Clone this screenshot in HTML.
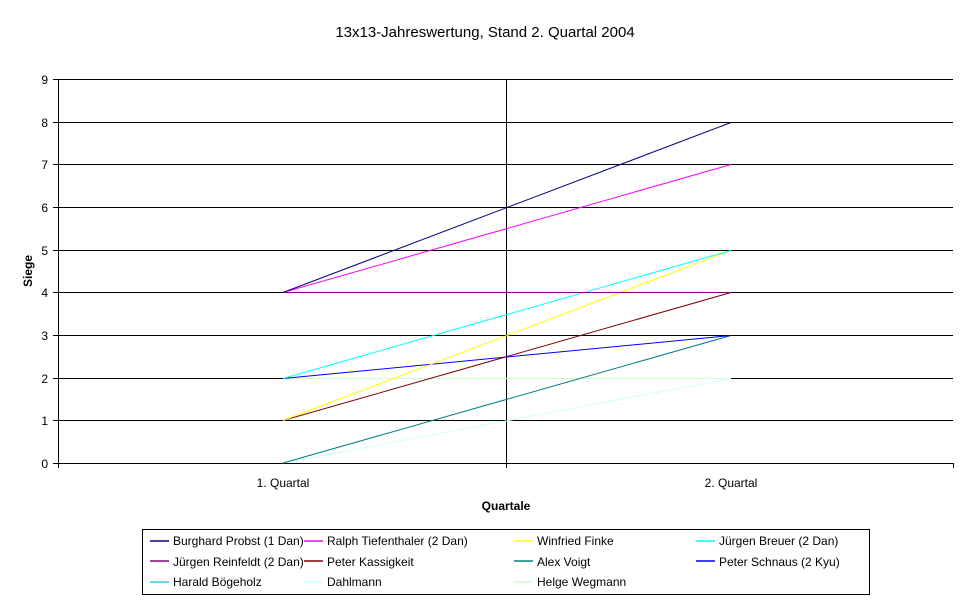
<!DOCTYPE html>
<html><head><meta charset="utf-8"><style>body{margin:0;background:#fff}svg{display:block}text{font-family:"Liberation Sans",Arial,sans-serif}</style></head><body>
<svg width="970" height="603" viewBox="0 0 970 603">
<rect width="970" height="603" fill="#fff"/>
<text x="485" y="37" text-anchor="middle" font-size="15">13x13-Jahreswertung, Stand 2. Quartal 2004</text>
<g stroke="#000" stroke-width="1" shape-rendering="crispEdges">
<line x1="53" y1="79.5" x2="953" y2="79.5"/>
<line x1="53" y1="122.5" x2="953" y2="122.5"/>
<line x1="53" y1="164.5" x2="953" y2="164.5"/>
<line x1="53" y1="207.5" x2="953" y2="207.5"/>
<line x1="53" y1="250.5" x2="953" y2="250.5"/>
<line x1="53" y1="292.5" x2="953" y2="292.5"/>
<line x1="53" y1="335.5" x2="953" y2="335.5"/>
<line x1="53" y1="378.5" x2="953" y2="378.5"/>
<line x1="53" y1="420.5" x2="953" y2="420.5"/>
<line x1="53" y1="463.5" x2="953" y2="463.5"/>
<line x1="58.5" y1="79" x2="58.5" y2="468"/>
<line x1="506.5" y1="79" x2="506.5" y2="468"/>
<line x1="953.5" y1="463" x2="953.5" y2="468"/>
</g>
<g font-size="12" text-anchor="end">
<text x="48" y="84">9</text><text x="48" y="127">8</text><text x="48" y="169">7</text><text x="48" y="212">6</text><text x="48" y="255">5</text><text x="48" y="297">4</text><text x="48" y="340">3</text><text x="48" y="383">2</text><text x="48" y="425">1</text><text x="48" y="468">0</text>
</g>
<text x="283" y="487" font-size="12" text-anchor="middle">1. Quartal</text>
<text x="731" y="487" font-size="12" text-anchor="middle">2. Quartal</text>
<text x="506" y="510" font-size="12" font-weight="bold" text-anchor="middle">Quartale</text>
<text transform="translate(32,271) rotate(-90)" font-size="12" font-weight="bold" text-anchor="middle">Siege</text>
<g stroke-width="1" fill="none">
<line x1="283" y1="378.5" x2="731" y2="378.5" stroke="#ccffcc"/>
<line x1="283" y1="463" x2="731" y2="378.5" stroke="#ccffff"/>
<line x1="283" y1="463" x2="731" y2="335.5" stroke="#008080"/>
<line x1="283" y1="378.5" x2="731" y2="335.5" stroke="#0000ff"/>
<line x1="283" y1="420.5" x2="731" y2="292.5" stroke="#800000"/>
<line x1="283" y1="420.5" x2="731" y2="250.5" stroke="#ffff00"/>
<line x1="283" y1="378.5" x2="731" y2="250.5" stroke="#00ffff"/>
<line x1="283" y1="292.5" x2="731" y2="292.5" stroke="#800080"/>
<line x1="283" y1="292.5" x2="731" y2="164.5" stroke="#ff00ff"/>
<line x1="283" y1="292.5" x2="731" y2="122.5" stroke="#000080"/>
</g>
<rect x="142.5" y="529.5" width="727" height="65" fill="none" stroke="#000"/>
<g stroke-width="1.5">
<line x1="150" y1="541" x2="169" y2="541" stroke="#000080"/>
<line x1="304" y1="541" x2="323" y2="541" stroke="#ff00ff"/>
<line x1="514" y1="541" x2="533" y2="541" stroke="#ffff00"/>
<line x1="696" y1="541" x2="715" y2="541" stroke="#00ffff"/>
<line x1="150" y1="561" x2="169" y2="561" stroke="#800080"/>
<line x1="304" y1="561" x2="323" y2="561" stroke="#800000"/>
<line x1="514" y1="561" x2="533" y2="561" stroke="#008080"/>
<line x1="696" y1="561" x2="715" y2="561" stroke="#0000ff"/>
<line x1="150" y1="582" x2="169" y2="582" stroke="#33ccff"/>
<line x1="304" y1="582" x2="323" y2="582" stroke="#ccffff"/>
<line x1="514" y1="582" x2="533" y2="582" stroke="#ccffcc"/>
</g>
<g font-size="12">
<text x="173" y="545">Burghard Probst (1 Dan)</text>
<text x="327" y="545">Ralph Tiefenthaler (2 Dan)</text>
<text x="537" y="545">Winfried Finke</text>
<text x="719" y="545">Jürgen Breuer (2 Dan)</text>
<text x="173" y="566">Jürgen Reinfeldt (2 Dan)</text>
<text x="327" y="566">Peter Kassigkeit</text>
<text x="537" y="566">Alex Voigt</text>
<text x="719" y="566">Peter Schnaus (2 Kyu)</text>
<text x="173" y="586">Harald Bögeholz</text>
<text x="327" y="586">Dahlmann</text>
<text x="537" y="586">Helge Wegmann</text>
</g>
</svg>
</body></html>
